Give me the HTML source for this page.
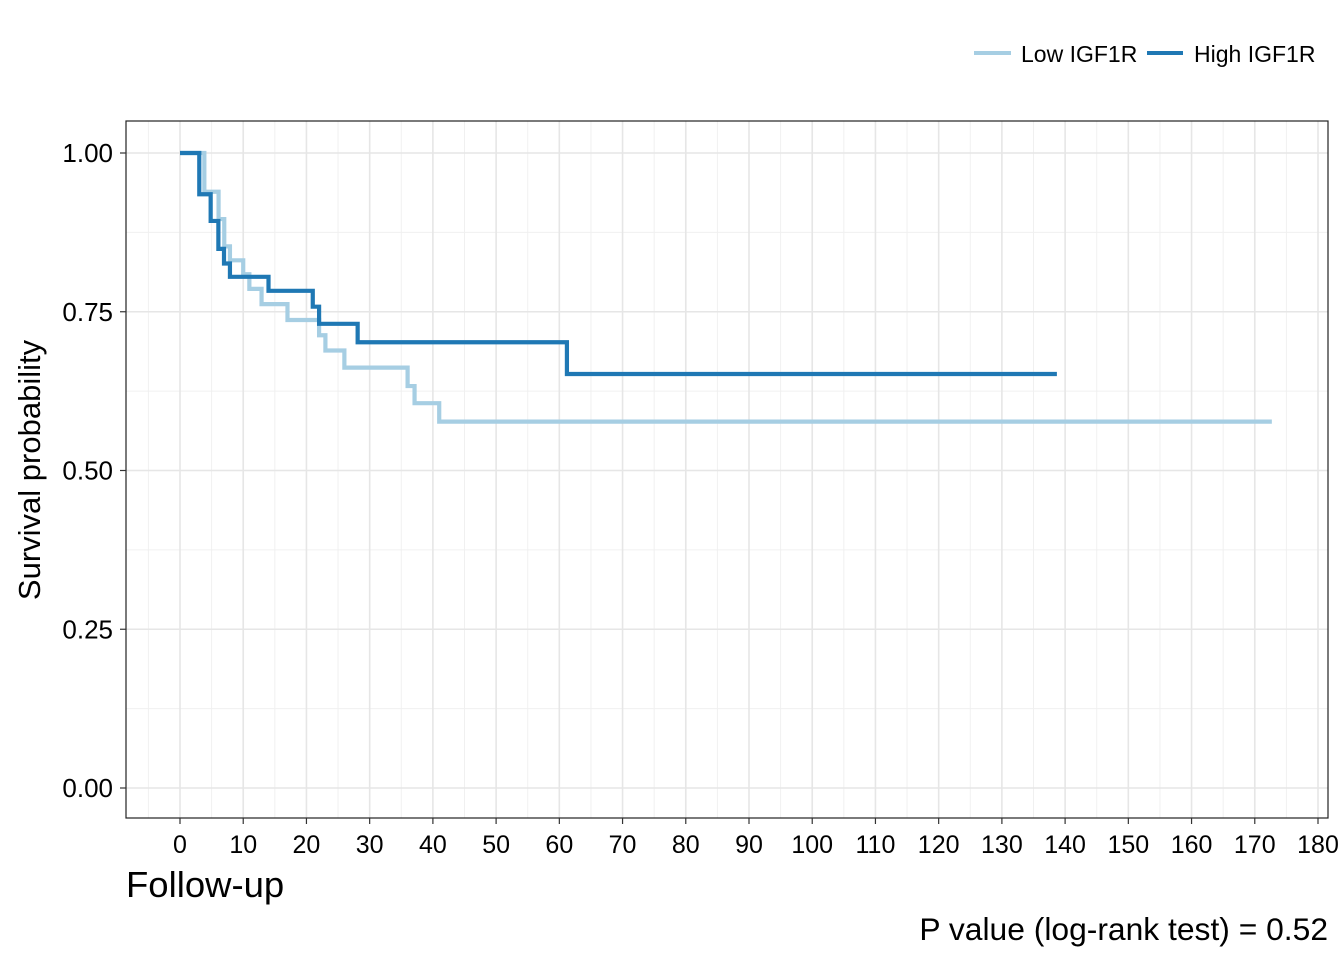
<!DOCTYPE html>
<html><head><meta charset="utf-8"><style>
html,body{margin:0;padding:0;background:#fff}
svg{display:block;font-family:"Liberation Sans",Arial,sans-serif}
</style></head><body>
<svg id="chart" width="1344" height="960" xmlns="http://www.w3.org/2000/svg">
<rect x="0" y="0" width="1344" height="960" fill="#fff"/>
<g id="grid"></g>
<g id="curves"></g>
<rect x="126" y="121" width="1202" height="697" fill="none" stroke="#222" stroke-width="1.2"/>
<g id="axes"></g>
<text transform="translate(40,470) rotate(-90)" text-anchor="middle" font-size="31" fill="#000">Survival probability</text>
<text x="126" y="897" font-size="36.5" fill="#000">Follow-up</text>
<text x="1328" y="940" text-anchor="end" font-size="31.8" fill="#000">P value (log-rank test) = 0.52</text>
<g>
<line x1="974" y1="53" x2="1011" y2="53" stroke="#a6cee3" stroke-width="4"/>
<text x="1021" y="62" font-size="23" fill="#000">Low IGF1R</text>
<line x1="1147" y1="53" x2="1183" y2="53" stroke="#1f78b4" stroke-width="4"/>
<text x="1194" y="62" font-size="23" fill="#000">High IGF1R</text>
</g>
</svg>
<script>
const xTicks=[0,10,20,30,40,50,60,70,80,90,100,110,120,130,140,150,160,170,180];
const yTicks=[0,0.25,0.5,0.75,1.0];
const yTickLabels=["0.00","0.25","0.50","0.75","1.00"];
const lowTimes=[0,3.85,6.1,7.0,7.9,10.0,10.97,12.9,17.0,22.0,23.0,26.0,36.0,37.1,41.0,172.7];
const lowSurv=[1,0.939,0.896,0.853,0.831,0.809,0.786,0.762,0.737,0.713,0.689,0.662,0.633,0.606,0.577,0.577];
const highTimes=[0,3.05,4.85,6.07,6.96,7.9,14.0,21.0,22.0,28.1,61.2,138.7];
const highSurv=[1,0.935,0.893,0.849,0.826,0.805,0.783,0.758,0.731,0.702,0.652,0.652];

const NS="http://www.w3.org/2000/svg";
const xs=t=>180+t*(1318-180)/180;
const ys=v=>788-v*635;
function mk(tag,attrs,parent){const e=document.createElementNS(NS,tag);for(const k in attrs)e.setAttribute(k,attrs[k]);parent.appendChild(e);return e;}
const grid=document.getElementById('grid'),axes=document.getElementById('axes'),curves=document.getElementById('curves');
for(let t=-5;t<=185;t+=10){const x=xs(t);if(x<126||x>1328)continue;const l=mk('line',{x1:x,x2:x,y1:121,y2:818,stroke:'#f0f0f0','stroke-width':1},grid);

}
for(let v=-0.125;v<=1.2;v+=0.25){const y=ys(v);if(y<121||y>818)continue;const l=mk('line',{x1:126,x2:1328,y1:y,y2:y,stroke:'#f0f0f0','stroke-width':1},grid);

}
xTicks.forEach(t=>{const x=xs(t);
const g=mk('line',{x1:x,x2:x,y1:121,y2:818,stroke:'#e6e6e6','stroke-width':1.6},grid);


const tk=mk('line',{x1:x,x2:x,y1:818,y2:824,stroke:'#333','stroke-width':1.2},axes);


const tx=mk('text',{x:x,y:853,'text-anchor':'middle','font-size':25,fill:'#000'},axes);tx.textContent=t;

});
yTicks.forEach((v,i)=>{const y=ys(v);
const g=mk('line',{x1:126,x2:1328,y1:y,y2:y,stroke:'#e6e6e6','stroke-width':1.6},grid);


const tk=mk('line',{x1:120,x2:126,y1:y,y2:y,stroke:'#333','stroke-width':1.2},axes);


const tx=mk('text',{x:113,y:y+9,'text-anchor':'end','font-size':26,fill:'#000'},axes);tx.textContent=yTickLabels[i];

});
function stepPath(T,S){let d='M'+xs(T[0])+','+ys(S[0]);for(let i=1;i<T.length;i++){d+=' H'+xs(T[i])+' V'+ys(S[i]);}return d;}
const pl=mk('path',{d:stepPath(lowTimes,lowSurv),fill:'none',stroke:'#a6cee3','stroke-width':4.2},curves);


const ph=mk('path',{d:stepPath(highTimes,highSurv),fill:'none',stroke:'#1f78b4','stroke-width':4.2},curves);


</script>
</body></html>
